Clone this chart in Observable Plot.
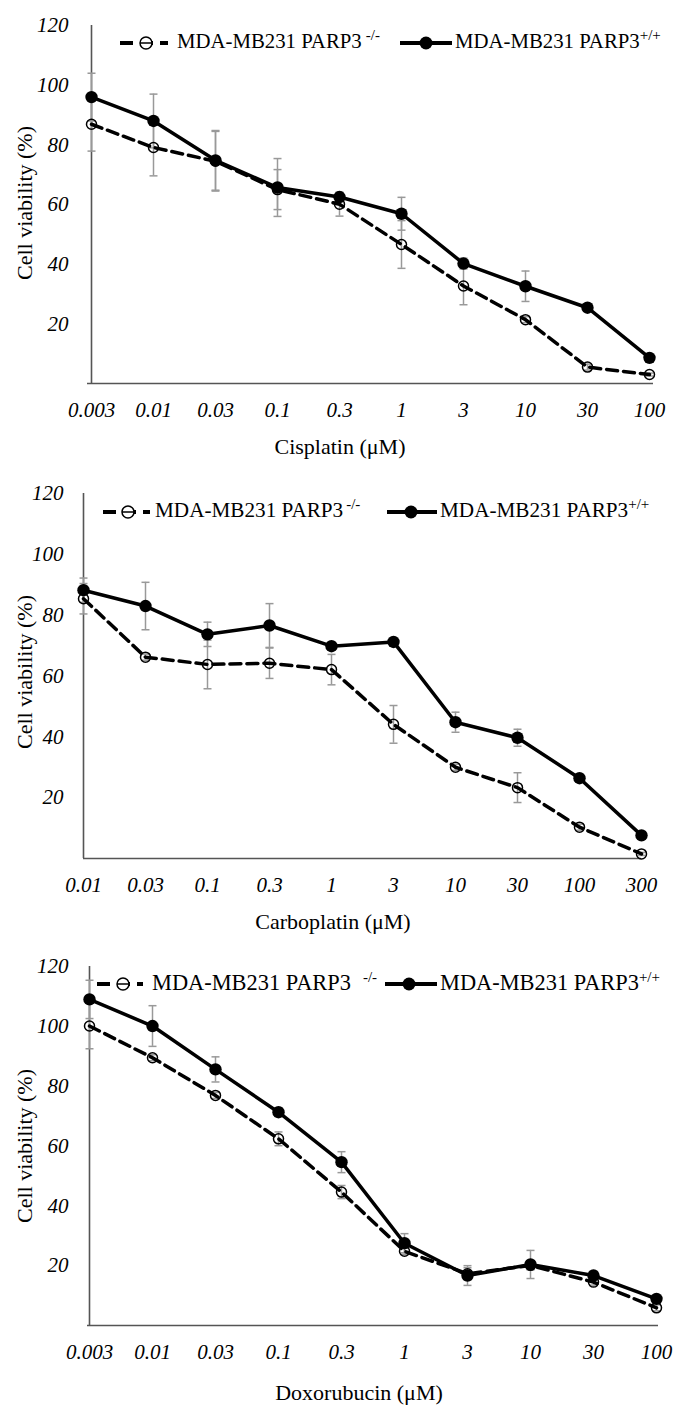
<!DOCTYPE html>
<html><head><meta charset="utf-8">
<script src="https://cdn.jsdelivr.net/npm/d3@7"></script>
<script src="https://cdn.jsdelivr.net/npm/@observablehq/plot@0.6"></script>
<style>
body{margin:0;background:#fff;}
#root{position:relative;width:676px;height:1405px;font-family:"Liberation Serif","Times New Roman",serif;color:#000;background:#fff;}
.panel{position:absolute;left:0;width:676px;}
.abs{position:absolute;white-space:nowrap;}
.ytitle{font-size:22px;transform:translate(-50%,-50%) rotate(-90deg);line-height:1;}
.xtitle{font-size:22px;transform:translate(-50%,-50%);line-height:1;}
.legtext{line-height:1;}
.legtext sup{font-size:15px;vertical-align:0;position:relative;top:-8px;}
</style>
</head><body>
<div id="root"></div>
<script>
// ---------- data ----------
const cisplatinDoses = ["0.003","0.01","0.03","0.1","0.3","1","3","10","30","100"];
const cisplatinKO    = [86.9, 79.1, 74.5, 65.0, 60.1, 46.6, 32.7, 21.4, 5.5, 3.0];
const cisplatinKOErr = [9, 9.5, 10, 6.7, 4, 8, 6.3, 1, 1, 0.5];
const cisplatinWT    = [96.0, 88.0, 74.8, 65.7, 62.5, 56.9, 40.2, 32.6, 25.4, 8.6];
const cisplatinWTErr = [8, 9, 10, 9.7, 1.5, 5.5, 1.8, 5.1, 1, 0.5];

const carboplatinDoses = ["0.01","0.03","0.1","0.3","1","3","10","30","100","300"];
const carboplatinKO    = [85.4, 66.2, 63.8, 64.2, 62.1, 44.1, 30.0, 23.3, 10.3, 1.5];
const carboplatinKOErr = [5, 1, 8, 5, 5, 6.2, 1, 4.9, 1, 0.5];
const carboplatinWT    = [88.2, 83.0, 73.7, 76.6, 69.8, 71.2, 44.8, 39.7, 26.4, 7.6];
const carboplatinWTErr = [4, 7.8, 4, 7.2, 1, 1, 3.3, 2.8, 1, 0.5];

const doxorubicinDoses = ["0.003","0.01","0.03","0.1","0.3","1","3","10","30","100"];
const doxorubicinKO    = [100.1, 89.5, 76.9, 62.4, 44.6, 24.8, 17.3, 20.1, 14.5, 5.9];
const doxorubicinKOErr = [7.6, 1, 1, 2.3, 2.2, 1, 2, 1.5, 1, 1];
const doxorubicinWT    = [109.0, 100.1, 85.6, 71.3, 54.6, 27.5, 16.7, 20.4, 16.7, 8.9];
const doxorubicinWTErr = [6.4, 6.8, 4.2, 1.5, 3.5, 3.2, 3.3, 4.7, 1.5, 1];

const yTicks = [20, 40, 60, 80, 100, 120];
const seriesKO = "MDA-MB231 PARP3";
const supKO = "-/-";
const supWT = "+/+";
const yTitle = "Cell viability (%)";
const xTitles = ["Cisplatin (μM)", "Carboplatin (μM)", "Doxorubucin (μM)"];

// ---------- drawing ----------
const capSymbol = {draw(ctx, size){ const r = Math.sqrt(size/Math.PI); ctx.moveTo(-r,0); ctx.lineTo(r,0); }};
const root = document.getElementById("root");

function makePanel(cfg){
  const rows = [];
  cfg.doses.forEach((d,i)=>{
    rows.push({dose:d, s:"KO", v:cfg.ko[i], e:cfg.koErr[i]});
    rows.push({dose:d, s:"WT", v:cfg.wt[i], e:cfg.wtErr[i]});
  });
  const ko = rows.filter(r=>r.s==="KO"), wt = rows.filter(r=>r.s==="WT");
  const svg = Plot.plot({
    width: 676, height: cfg.height,
    marginTop: cfg.mt, marginBottom: cfg.mb, marginLeft: cfg.ml, marginRight: cfg.mr,
    style: {fontFamily: '"Liberation Serif","Times New Roman",serif', fontSize: "21px", fontStyle: "italic", background: "white", color: "black", overflow: "visible"},
    x: {type: "point", domain: cfg.doses, padding: 0, label: null},
    y: {domain: [0, 120], label: null},
    marks: [
      Plot.axisY({ticks: yTicks, tickSize: 0, tickPadding: cfg.ytp, label: null}),
      Plot.axisX({tickSize: 0, tickPadding: 19, label: null}),
      Plot.ruleX([cfg.doses[0]], {stroke: "#555", strokeWidth: 1.6}),
      Plot.ruleY([0], {stroke: "#555", strokeWidth: 1.6}),
      Plot.ruleX(rows, {x: "dose", y1: d=>d.v-d.e, y2: d=>d.v+d.e, stroke: "#999", strokeWidth: 1.5}),
      Plot.dot(rows, {x: "dose", y: d=>d.v+d.e, symbol: capSymbol, r: 4, stroke: "#999", strokeWidth: 1.5}),
      Plot.dot(rows, {x: "dose", y: d=>d.v-d.e, symbol: capSymbol, r: 4, stroke: "#999", strokeWidth: 1.5}),
      Plot.line(ko, {x: "dose", y: "v", stroke: "black", strokeWidth: 3.5, strokeDasharray: "11,6"}),
      Plot.line(wt, {x: "dose", y: "v", stroke: "black", strokeWidth: 3.5}),
      Plot.dot(ko, {x: "dose", y: "v", r: 5, stroke: "black", strokeWidth: 1.5, fill: "none"}),
      Plot.dot(wt, {x: "dose", y: "v", r: 6.2, fill: "black"})
    ]
  });
  const div = document.createElement("div");
  div.className = "panel";
  div.style.top = cfg.top + "px";
  div.style.height = cfg.height + "px";
  div.appendChild(svg);

  // y title
  const yt = document.createElement("div");
  yt.className = "abs ytitle"; yt.textContent = yTitle;
  yt.style.left = "25px"; yt.style.top = cfg.ytY + "px";
  div.appendChild(yt);
  // x title
  const xt = document.createElement("div");
  xt.className = "abs xtitle"; xt.textContent = cfg.xTitle;
  xt.style.left = cfg.xtX + "px"; xt.style.top = cfg.xtY + "px";
  div.appendChild(xt);

  // legend
  const L = cfg.leg;
  const ns = "http://www.w3.org/2000/svg";
  function sample(x0, x1, mx, dashed){
    const s = document.createElementNS(ns, "svg");
    s.setAttribute("width", x1 - x0 + 16); s.setAttribute("height", 20);
    s.style.position = "absolute"; s.style.left = (x0 - 8) + "px"; s.style.top = (L.y - 10) + "px"; s.style.overflow = "visible";
    const line = document.createElementNS(ns, "line");
    line.setAttribute("x1", 8); line.setAttribute("x2", x1 - x0 + 8);
    line.setAttribute("y1", 10); line.setAttribute("y2", 10);
    line.setAttribute("stroke", "black"); line.setAttribute("stroke-width", 3.8);
    if (dashed) line.setAttribute("stroke-dasharray", "13,7");
    s.appendChild(line);
    const c = document.createElementNS(ns, "circle");
    c.setAttribute("cx", mx - x0 + 8); c.setAttribute("cy", 10);
    if (dashed){ c.setAttribute("r", 6); c.setAttribute("fill", "white"); c.setAttribute("stroke", "black"); c.setAttribute("stroke-width", 1.5); }
    else { c.setAttribute("r", 6.5); c.setAttribute("fill", "black"); }
    s.appendChild(c);
    if (dashed){
      const b = document.createElementNS(ns, "line");
      b.setAttribute("x1", mx - x0 + 2); b.setAttribute("x2", mx - x0 + 14);
      b.setAttribute("y1", 10); b.setAttribute("y2", 10);
      b.setAttribute("stroke", "black"); b.setAttribute("stroke-width", 1.5);
      s.appendChild(b);
    }
    div.appendChild(s);
  }
  function label(x, sup, gap){
    const t = document.createElement("div");
    t.className = "abs legtext";
    t.style.left = x + "px"; t.style.top = (L.y - 12) + "px"; t.style.fontSize = L.fs + "px";
    t.appendChild(document.createTextNode(seriesKO));
    const sp = document.createElement("sup"); sp.textContent = sup; sp.style.marginLeft = gap + "px";
    t.appendChild(sp);
    div.appendChild(t);
  }
  sample(L.d0, L.d1, L.dm, true);
  label(L.dt, supKO, L.gap);
  sample(L.s0, L.s1, L.sm, false);
  label(L.st, supWT, 0);

  root.appendChild(div);
}

makePanel({doses: cisplatinDoses, ko: cisplatinKO, koErr: cisplatinKOErr, wt: cisplatinWT, wtErr: cisplatinWTErr,
  top: 0, height: 460, mt: 25, mb: 77, ml: 87, mr: 23, ytp: 19,
  ytY: 203, xTitle: xTitles[0], xtX: 340, xtY: 447,
  leg: {y: 43, fs: 20.8, d0: 120, d1: 168, dm: 146, dt: 177, gap: 4, s0: 400, s1: 452, sm: 426, st: 455}});
makePanel({doses: carboplatinDoses, ko: carboplatinKO, koErr: carboplatinKOErr, wt: carboplatinWT, wtErr: carboplatinWTErr,
  top: 460, height: 480, mt: 33, mb: 82, ml: 83, mr: 35, ytp: 20,
  ytY: 212, xTitle: xTitles[1], xtX: 333, xtY: 462,
  leg: {y: 52, fs: 21.2, d0: 103, d1: 150, dm: 128, dt: 155, gap: 3, s0: 387, s1: 437, sm: 411, st: 440}});
makePanel({doses: doxorubicinDoses, ko: doxorubicinKO, koErr: doxorubicinKOErr, wt: doxorubicinWT, wtErr: doxorubicinWTErr,
  top: 940, height: 465, mt: 26, mb: 80, ml: 87, mr: 18, ytp: 19,
  ytY: 206, xTitle: xTitles[2], xtX: 359, xtY: 453,
  leg: {y: 44, fs: 22.4, d0: 97, d1: 143, dm: 123, dt: 152, gap: 12, s0: 385, s1: 437, sm: 409, st: 440}});
</script>
</body></html>
